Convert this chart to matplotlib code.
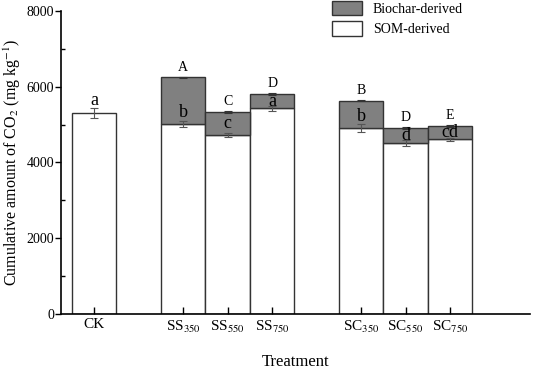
import matplotlib.pyplot as plt
import numpy as np
from matplotlib.patches import Patch
from matplotlib.ticker import MultipleLocator

plt.rcParams['font.family'] = ['Liberation Serif', 'DejaVu Serif']
plt.rcParams['mathtext.fontset'] = 'stix'

# data
treatments = ['CK', 'SS$_{350}$', 'SS$_{550}$', 'SS$_{750}$',
              'SC$_{350}$', 'SC$_{550}$', 'SC$_{750}$']
positions = [0, 2, 3, 4, 6, 7, 8]
som = [5310, 5020, 4730, 5430, 4915, 4505, 4617]
som_err = [130, 80, 50, 70, 100, 80, 40]
biochar = [0, 1225, 600, 375, 715, 410, 343]
total_err = [0, 20, 20, 20, 20, 20, 20]
upper_letters = ['', 'A', 'C', 'D', 'B', 'D', 'E']
lower_letters = ['a', 'b', 'c', 'a', 'b', 'd', 'cd']

fig = plt.figure(figsize=(5.33, 3.71), dpi=100)
ax = fig.add_axes([0.115, 0.153, 0.88, 0.818])

edge = '#333333'
ax.bar(positions, som, width=1.0, color='white', edgecolor=edge, linewidth=1.0)
ax.bar(positions[1:], biochar[1:], bottom=som[1:], width=1.0, color='#808080',
       edgecolor=edge, linewidth=1.0)

totals = np.array(som) + np.array(biochar)
ax.errorbar(positions, som, yerr=som_err, fmt='none', ecolor='#555555',
            elinewidth=0.8, capsize=3, capthick=0.8)
ax.errorbar(positions[1:], totals[1:], yerr=total_err[1:], fmt='none',
            ecolor='#333333', elinewidth=0.8, capsize=3, capthick=0.8)

# significance letters: upper above the stack, lower inside the biochar band
for x, s, e, t, up, low in zip(positions, som, som_err, totals,
                               upper_letters, lower_letters):
    if up:
        ax.text(x, t + 270, up, ha='center', va='center', fontsize=10)
        y_low = min(s + 300, (s + t) / 2)
        ax.text(x, y_low, low, ha='center', va='center', fontsize=13)
    else:
        ax.text(x, s + e + 200, low, ha='center', va='center', fontsize=13)

ax.set_xlim(-0.74, 9.8)
ax.set_ylim(0, 8000)
ax.set_xticks(positions)
ax.set_xticklabels(treatments, fontsize=11)
ax.yaxis.set_major_locator(MultipleLocator(2000))
ax.yaxis.set_minor_locator(MultipleLocator(1000))
ax.tick_params(axis='y', labelsize=10, direction='out', length=4, width=1, pad=1)
ax.tick_params(axis='y', which='minor', direction='in', length=3, width=1)
ax.tick_params(axis='x', direction='in', length=5, width=1, pad=3)
ax.spines['top'].set_visible(False)
ax.spines['right'].set_visible(False)
ax.spines['left'].set_linewidth(1.2)
ax.spines['bottom'].set_linewidth(1.2)

ax.set_ylabel('Cumulative amount of CO$_2$ (mg kg$^{-1}$)', fontsize=11.5,
              labelpad=3)
ax.set_xlabel('Treatment', fontsize=12, labelpad=14)

handles = [Patch(facecolor='#808080', edgecolor=edge, label='Biochar-derived'),
           Patch(facecolor='white', edgecolor=edge, label='SOM-derived')]
fig.legend(handles=handles, loc='upper left',
           bbox_to_anchor=(332 / 533, 1 - 1 / 371), borderaxespad=0,
           borderpad=0, frameon=False, fontsize=10, handlelength=2.15,
           handleheight=1.2, labelspacing=0.4, handletextpad=0.8)

fig.savefig('out.png', dpi=100)
